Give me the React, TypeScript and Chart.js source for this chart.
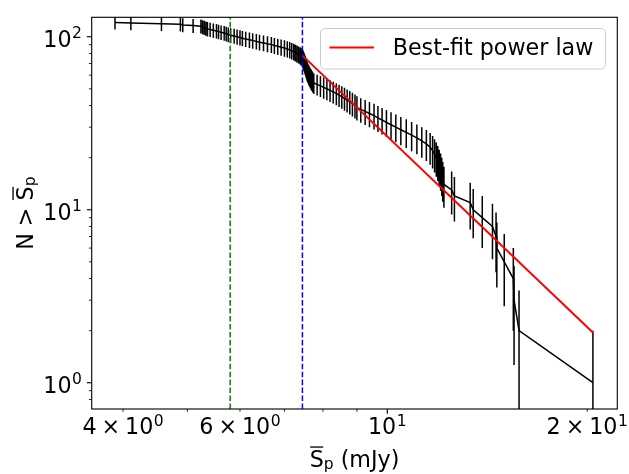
import React, { useEffect, useRef } from 'react';
import { Chart, registerables } from 'chart.js';

Chart.register(...registerables);

// ---- data ----
const fluxValues = [
  3.89, 4.11, 4.57, 4.88, 4.92, 5.10, 5.24, 5.27, 5.30, 5.33,
  5.36, 5.41, 5.47, 5.53, 5.57, 5.62, 5.68, 5.72, 5.76, 5.81,
  5.88, 5.94, 6.00, 6.05, 6.12, 6.20, 6.27, 6.35, 6.42, 6.51,
  6.60, 6.69, 6.76, 6.84, 6.92, 7.00, 7.07, 7.13, 7.18, 7.23,
  7.27, 7.31, 7.35, 7.39, 7.42, 7.45, 7.46, 7.47, 7.48, 7.49,
  7.50, 7.51, 7.52, 7.53, 7.54, 7.55, 7.56, 7.57, 7.58, 7.59,
  7.61, 7.62, 7.64, 7.66, 7.68, 7.70, 7.72, 7.75, 7.84, 7.93,
  8.02, 8.11, 8.20, 8.29, 8.38, 8.46, 8.54, 8.62, 8.70, 8.78,
  8.86, 8.94, 9.00, 9.12, 9.26, 9.40, 9.55, 9.68, 9.82, 9.97,
  10.13, 10.30, 10.48, 10.68, 10.88, 11.08, 11.27, 11.45, 11.60, 11.70,
  11.78, 11.85, 11.91, 11.97, 12.03, 12.08, 12.12, 12.17, 12.50, 12.62,
  13.33, 13.47, 13.90, 14.40, 14.58, 14.62, 15.00, 15.48, 15.52, 15.79,
  20.40,
];
const countValues = [
  121, 120, 119, 118, 117, 116, 115, 114, 113, 112,
  111, 110, 109, 108, 107, 106, 105, 104, 103, 102,
  101, 100, 99, 98, 97, 96, 95, 94, 93, 92,
  91, 90, 89, 88, 87, 86, 85, 84, 83, 82,
  81, 80, 79, 78, 77, 76, 75, 74, 73, 72,
  71, 70, 69, 68, 67, 66, 65, 64, 63, 62,
  61, 60, 59, 58, 57, 56, 55, 54, 53, 52,
  51, 50, 49, 48, 47, 46, 45, 44, 43, 42,
  41, 40, 39, 38, 37, 36, 35, 34, 33, 32,
  31, 30, 29, 28, 27, 26, 25, 24, 23, 22,
  21, 20, 19, 18, 17, 16, 15, 14, 13, 12,
  11, 10, 9, 8, 7, 6, 5, 4, 3, 2,
  1,
];
const countErrors = countValues.map((n) => Math.sqrt(n)); // Poisson errors

const fitFlux = [7.46, 20.4];
const fitCount = [77.5, 1.95];
const greenLineFlux = [5.8];
const blueLineFlux = [7.45];

const X_MIN = 3.588;
const X_MAX = 22.2;
const Y_MIN = 0.705;
const Y_MAX = 129.5;

const xMajorTicks = [10];
const xMinorTicks = [4, 5, 6, 7, 8, 9, 20];
const xLabelValues = [4, 6, 10, 20];
const xLabelMantissas = ['4', '6', '', '2'];
const xLabelExponents = ['0', '0', '1', '1'];
const yMajorTicks = [1, 10, 100];
const yMinorTicks = [0.8, 0.9, 2, 3, 4, 5, 6, 7, 8, 9, 20, 30, 40, 50, 60, 70, 80, 90];
const yLabelExponents = ['0', '1', '2'];

const legendLabel = 'Best-fit power law';

// ---- text helpers ----
const FONT = '"DejaVu Sans", sans-serif';
const FS = 22.22;
const SS = FS * 0.7;

type Part = { t: string; s: number; dy?: number; pre?: number; post?: number; over?: boolean };

function partsWidth(ctx: CanvasRenderingContext2D, parts: Part[]) {
  let w = 0;
  for (const p of parts) {
    ctx.font = `${p.s}px ${FONT}`;
    w += (p.pre || 0) + ctx.measureText(p.t).width + (p.post || 0);
  }
  return w;
}

function drawParts(ctx: CanvasRenderingContext2D, parts: Part[], x: number, y: number, align: 'left' | 'center' | 'right') {
  const w = partsWidth(ctx, parts);
  let cx = align === 'center' ? x - w / 2 : align === 'right' ? x - w : x;
  ctx.textAlign = 'left';
  ctx.textBaseline = 'alphabetic';
  for (const p of parts) {
    ctx.font = `${p.s}px ${FONT}`;
    cx += p.pre || 0;
    const pw = ctx.measureText(p.t).width;
    ctx.fillText(p.t, cx, y + (p.dy || 0));
    if (p.over) {
      ctx.fillRect(cx + 0.5, y - 20.6, pw - 1, 1.3);
    }
    cx += pw + (p.post || 0);
  }
}

function tickParts(mant: string, exp: string): Part[] {
  const parts: Part[] = [];
  if (mant) {
    parts.push({ t: mant, s: FS });
    parts.push({ t: '\u00d7', s: FS, pre: 4.9, post: 4.9 });
  }
  parts.push({ t: '10', s: FS });
  parts.push({ t: exp, s: SS, dy: -8.3, pre: 0.5 });
  return parts;
}

const axesPlugin = {
  id: 'axesDecor',
  beforeDatasetsDraw(chart: any) {
    const { ctx, chartArea, scales } = chart;
    const xs = scales.x;
    const ys = scales.y;
    ctx.save();
    ctx.beginPath();
    ctx.rect(chartArea.left, chartArea.top, chartArea.right - chartArea.left, chartArea.bottom - chartArea.top);
    ctx.clip();
    ctx.strokeStyle = '#000000';
    ctx.lineWidth = 1.5;
    ctx.beginPath();
    for (let i = 0; i < fluxValues.length; i++) {
      const px = xs.getPixelForValue(fluxValues[i]);
      const lo = countValues[i] - countErrors[i];
      const hi = countValues[i] + countErrors[i];
      const yTop = ys.getPixelForValue(hi);
      const yBot = lo > 0 ? ys.getPixelForValue(lo) : chartArea.bottom + 5;
      ctx.moveTo(px, yTop);
      ctx.lineTo(px, yBot);
    }
    ctx.stroke();
    ctx.restore();
  },
  afterDatasetsDraw(chart: any) {
    const { ctx, chartArea, scales } = chart;
    const xs = scales.x;
    const ys = scales.y;
    const { left, right, top, bottom } = chartArea;
    ctx.save();
    ctx.fillStyle = '#000000';
    ctx.strokeStyle = '#000000';

    const tick = (x1: number, y1: number, x2: number, y2: number, w: number) => {
      ctx.lineWidth = w;
      ctx.beginPath();
      ctx.moveTo(x1, y1);
      ctx.lineTo(x2, y2);
      ctx.stroke();
    };
    for (const v of xMajorTicks) {
      const px = xs.getPixelForValue(v);
      tick(px, bottom, px, bottom + 4.86, 1.11);
    }
    for (const v of xMinorTicks) {
      const px = xs.getPixelForValue(v);
      tick(px, bottom, px, bottom + 2.78, 0.83);
    }
    for (const v of yMajorTicks) {
      const py = ys.getPixelForValue(v);
      tick(left, py, left - 4.86, py, 1.11);
    }
    for (const v of yMinorTicks) {
      const py = ys.getPixelForValue(v);
      tick(left, py, left - 2.78, py, 0.83);
    }

    ctx.lineWidth = 1.11;
    ctx.strokeRect(left, top, right - left, bottom - top);

    for (let i = 0; i < xLabelValues.length; i++) {
      const px = xs.getPixelForValue(xLabelValues[i]);
      drawParts(ctx, tickParts(xLabelMantissas[i], xLabelExponents[i]), px, bottom + 25, 'center');
    }
    for (let i = 0; i < yMajorTicks.length; i++) {
      const py = ys.getPixelForValue(yMajorTicks[i]);
      drawParts(ctx, tickParts('', yLabelExponents[i]), left - 9.7, py + 9.8, 'right');
    }

    const xTitle: Part[] = [
      { t: 'S', s: FS, over: true },
      { t: 'p', s: SS, dy: 1.5 },
      { t: ' (mJy)', s: FS },
    ];
    drawParts(ctx, xTitle, (left + right) / 2, 467, 'center');

    const yTitle: Part[] = [
      { t: 'N > ', s: FS },
      { t: 'S', s: FS, over: true },
      { t: 'p', s: SS, dy: 1.5 },
    ];
    ctx.save();
    ctx.translate(33, (top + bottom) / 2);
    ctx.rotate(-Math.PI / 2);
    drawParts(ctx, yTitle, 0, 0, 'center');
    ctx.restore();

    const lx = 320.5, ly = 28.5, lw = 285, lh = 40.5, r = 4.4;
    ctx.beginPath();
    ctx.moveTo(lx + r, ly);
    ctx.lineTo(lx + lw - r, ly);
    ctx.arcTo(lx + lw, ly, lx + lw, ly + r, r);
    ctx.lineTo(lx + lw, ly + lh - r);
    ctx.arcTo(lx + lw, ly + lh, lx + lw - r, ly + lh, r);
    ctx.lineTo(lx + r, ly + lh);
    ctx.arcTo(lx, ly + lh, lx, ly + lh - r, r);
    ctx.lineTo(lx, ly + r);
    ctx.arcTo(lx, ly, lx + r, ly, r);
    ctx.closePath();
    ctx.fillStyle = 'rgba(255,255,255,0.8)';
    ctx.fill();
    ctx.strokeStyle = '#cccccc';
    ctx.lineWidth = 1;
    ctx.stroke();
    ctx.strokeStyle = '#ff0000';
    ctx.lineWidth = 2;
    ctx.beginPath();
    ctx.moveTo(329.5, 47.5);
    ctx.lineTo(373.9, 47.5);
    ctx.stroke();
    ctx.fillStyle = '#000000';
    ctx.font = `${FS}px ${FONT}`;
    ctx.textAlign = 'left';
    ctx.textBaseline = 'alphabetic';
    ctx.fillText(legendLabel, 392.7, 55.3);

    ctx.restore();
  },
};

export default function App() {
  const canvasRef = useRef<HTMLCanvasElement | null>(null);

  useEffect(() => {
    const canvas = canvasRef.current;
    if (!canvas) return;
    const mainData = fluxValues.map((x, i) => ({ x, y: countValues[i] }));
    const fitData = fitFlux.map((x, i) => ({ x, y: fitCount[i] }));
    const greenData = [{ x: greenLineFlux[0], y: Y_MIN }, { x: greenLineFlux[0], y: Y_MAX }];
    const blueData = [{ x: blueLineFlux[0], y: Y_MIN }, { x: blueLineFlux[0], y: Y_MAX }];

    const chart = new Chart(canvas, {
      type: 'scatter',
      data: {
        datasets: [
          { label: legendLabel, data: fitData, showLine: true, borderColor: '#ff0000', borderWidth: 2, pointRadius: 0, order: 0 },
          { label: 'green', data: greenData, showLine: true, borderColor: '#008000', borderWidth: 1.5, borderDash: [5.55, 2.4], pointRadius: 0, order: 1 },
          { label: 'blue', data: blueData, showLine: true, borderColor: '#0000ff', borderWidth: 1.5, borderDash: [5.55, 2.4], pointRadius: 0, order: 1 },
          { label: 'N', data: mainData, showLine: true, borderColor: '#000000', borderWidth: 1.5, pointRadius: 0, tension: 0, order: 2 },
        ],
      } as any,
      options: {
        animation: false,
        responsive: false,
        events: [],
        devicePixelRatio: 1,
        layout: { padding: { left: 91.7, top: 17.3, right: 11.7, bottom: 65 } },
        plugins: { legend: { display: false }, tooltip: { enabled: false }, title: { display: false } },
        scales: {
          x: { type: 'logarithmic', min: X_MIN, max: X_MAX, bounds: 'data', display: false },
          y: { type: 'logarithmic', min: Y_MIN, max: Y_MAX, bounds: 'data', display: false },
        },
      } as any,
      plugins: [axesPlugin],
    });
    return () => chart.destroy();
  }, []);

  return (
    <div style={{ position: 'absolute', left: 0, top: 0, width: 629, height: 474, background: '#ffffff' }}>
      <canvas ref={canvasRef} width={629} height={474} style={{ display: 'block' }} />
    </div>
  );
}
